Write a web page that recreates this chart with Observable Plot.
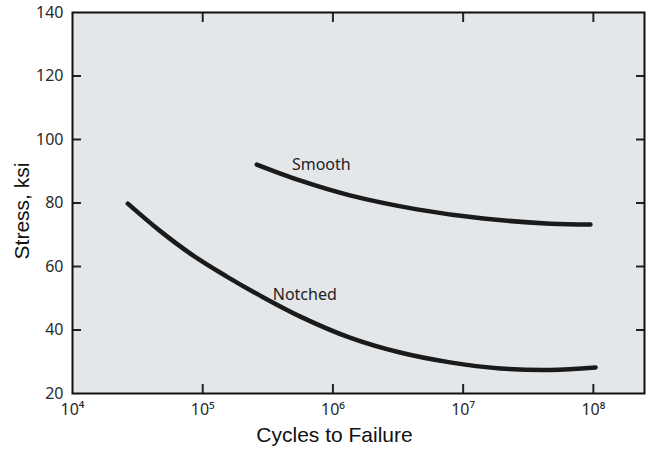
<!DOCTYPE html>
<html><head><meta charset="utf-8">
<script src="https://cdn.jsdelivr.net/npm/d3@7"></script>
<script src="https://cdn.jsdelivr.net/npm/@observablehq/plot@0.6"></script>
<style>body{margin:0;background:#fff;overflow:hidden}</style>
</head><body><div id="chart"></div>
<script>
// Data
const notchedCycles = [26600, 46700, 84100, 152000, 274000, 557000, 1350000, 3280000, 7940000, 19300000, 46700000, 104000000];
const notchedStress = [79.8, 71.3, 63.5, 56.9, 50.9, 44.3, 37.6, 32.9, 29.8, 27.9, 27.4, 28.2];
const smoothCycles = [260000, 557000, 1350000, 4430000, 14300000, 46700000, 95000000];
const smoothStress = [92.1, 87.1, 82.4, 78.0, 75.1, 73.5, 73.2];
const curveLabels = ["Smooth", "Notched"];
const labelCycles = [484000, 345000];
const labelStress = [92.1, 51.2];
const xTickValues = [1e4, 1e5, 1e6, 1e7, 1e8];
const xInnerTicks = [1e5, 1e6, 1e7, 1e8];
const yTickValues = [20, 40, 60, 80, 100, 120, 140];
const yInnerTicks = [40, 60, 80, 100, 120];
const xTitle = "Cycles to Failure";
const yTitle = "Stress, ksi";

const sup = {"0":"⁰","1":"¹","2":"²","3":"³","4":"⁴","5":"⁵","6":"⁶","7":"⁷","8":"⁸","9":"⁹"};
const fmtPow = d => "10" + String(Math.round(Math.log10(d))).split("").map(c => sup[c]).join("");

const notched = notchedCycles.map((c, i) => ({c, s: notchedStress[i]}));
const smooth = smoothCycles.map((c, i) => ({c, s: smoothStress[i]}));
const labels = curveLabels.map((t, i) => ({t, c: labelCycles[i], s: labelStress[i]}));

const tickFont = "Noto Sans, sans-serif";
const titleFont = "Liberation Sans, Arial, sans-serif";
const chart = Plot.plot({
  width: 649,
  height: 449,
  marginLeft: 72,
  marginRight: 5,
  marginTop: 12,
  marginBottom: 56,
  style: {background: "#fff", fontFamily: tickFont, fontSize: "16px", color: "#222"},
  x: {type: "log", domain: [1e4, 2.47e8]},
  y: {domain: [20, 140]},
  marks: [
    Plot.frame({fill: "#e4e7ea"}),
    // inward ticks, bottom & top, left & right
    Plot.axisX(xInnerTicks, {anchor: "bottom", tickSize: -9, strokeWidth: 2, tickFormat: () => "", label: null}),
    Plot.axisX(xInnerTicks, {anchor: "top", tickSize: -9, strokeWidth: 2, tickFormat: () => "", label: null}),
    Plot.axisY(yInnerTicks, {anchor: "left", tickSize: -9, strokeWidth: 2, tickFormat: () => "", label: null}),
    Plot.axisY(yInnerTicks, {anchor: "right", tickSize: -9, strokeWidth: 2, tickFormat: () => "", label: null}),
    // tick labels
    Plot.axisX(xTickValues, {anchor: "bottom", tickSize: 0, tickPadding: 10, tickFormat: fmtPow, label: null, fontSize: 16, fill: "#2a2a2a"}),
    Plot.axisY(yTickValues, {anchor: "left", tickSize: 0, tickPadding: 9, label: null, fontSize: 16, fill: "#2a2a2a"}),
    Plot.frame({stroke: "#111", strokeWidth: 2}),
    Plot.line(notched, {x: "c", y: "s", curve: "catmull-rom", stroke: "#1a1a1a", strokeWidth: 4.5}),
    Plot.line(smooth, {x: "c", y: "s", curve: "catmull-rom", stroke: "#1a1a1a", strokeWidth: 4.5}),
    Plot.text(labels, {x: "c", y: "s", text: "t", textAnchor: "start", fontSize: 16, fill: "#222", fontFamily: tickFont}),
    Plot.text([xTitle], {frameAnchor: "bottom", textAnchor: "middle", dx: -24, dy: 48, fontSize: 21, fill: "#111", fontFamily: titleFont}),
    Plot.text([yTitle], {frameAnchor: "left", textAnchor: "middle", rotate: -90, dx: -50, dy: 8, fontSize: 21, fill: "#111", fontFamily: titleFont})
  ]
});
document.getElementById("chart").appendChild(chart);
</script>
</body></html>
